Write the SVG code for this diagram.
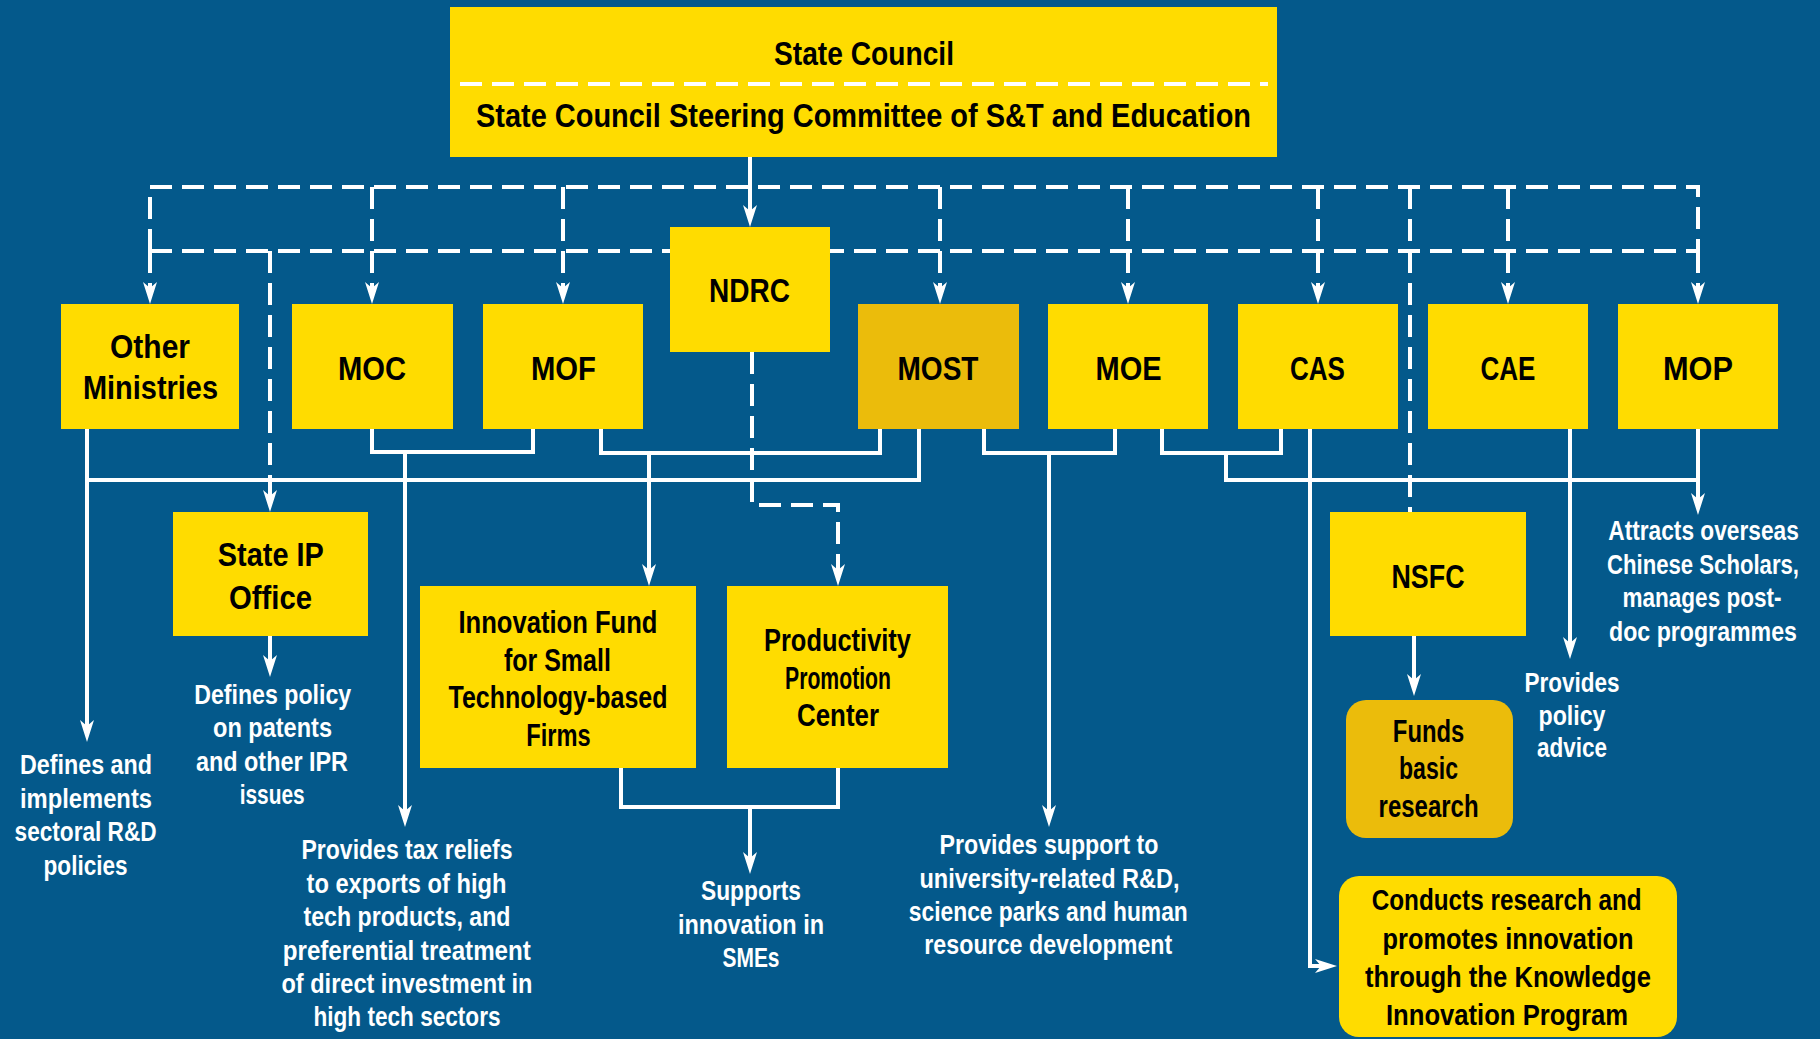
<svg xmlns="http://www.w3.org/2000/svg" width="1820" height="1039" viewBox="0 0 1820 1039">
  <defs>
    <style>
      .box { fill: #FFDC00; }
      .box-dark { fill: #EBBC0B; }
      .lbl { font-family: "Liberation Sans Narrow", "Liberation Sans", Arial, sans-serif; font-weight: bold; fill: #000; text-anchor: middle; }
      .big { font-size: 34px; }
      .mid { font-size: 31px; }
      .sm { font-size: 29px; }
      .desc { font-family: "Liberation Sans Narrow", "Liberation Sans", Arial, sans-serif; font-weight: bold; fill: #fff; text-anchor: middle; font-size: 27px; }
      .solid { fill: none; stroke: #fff; stroke-width: 4; }
      .dash { fill: none; stroke: #fff; stroke-width: 4; stroke-dasharray: 22 10; }
      .arrow { marker-end: url(#ah); }
    </style>
    <marker id="ah" viewBox="0 0 22 14" refX="14" refY="7" markerWidth="22" markerHeight="14" markerUnits="userSpaceOnUse" orient="auto">
      <path d="M0,0 L22,7 L0,14 L6,7 Z" fill="#fff"/>
    </marker>
  </defs>

  <!-- background -->
  <rect x="0" y="0" width="1820" height="1039" fill="#04598B"/>

  <!-- connectors -->
  <g id="connectors">
    <!-- dashed coordination bus below the State Council -->
    <path class="dash" d="M150,251 V187 H1698 V251"/>
    <path class="dash" d="M150,251 H1698"/>
    <!-- State Council to NDRC -->
    <path class="solid arrow" d="M750,157 V219"/>
    <!-- dashed drops to ministries -->
    <path class="dash arrow" d="M150,251 V296"/>
    <path class="dash arrow" d="M372,187 V296"/>
    <path class="dash arrow" d="M563,187 V296"/>
    <path class="dash arrow" d="M940,187 V296"/>
    <path class="dash arrow" d="M1128,187 V296"/>
    <path class="dash arrow" d="M1318,187 V296"/>
    <path class="dash arrow" d="M1508,187 V296"/>
    <path class="dash arrow" d="M1698,251 V296"/>
    <path class="dash arrow" d="M270,251 V504"/>
    <path class="dash" d="M1410,187 V512"/>
    <!-- NDRC to Productivity Promotion Center -->
    <path class="dash arrow" d="M752,352 V505 H838 V578"/>

    <!-- solid functional links -->
    <path class="solid arrow" d="M87,429 V734"/>
    <path class="solid" d="M919,429 V480 H87"/>
    <path class="solid" d="M372,429 V452 H533 V429"/>
    <path class="solid arrow" d="M405,452 V819"/>
    <path class="solid" d="M601,429 V453 H880 V429"/>
    <path class="solid arrow" d="M649,453 V578"/>
    <path class="solid" d="M621,768 V807 H838 V768"/>
    <path class="solid arrow" d="M750,807 V866"/>
    <path class="solid" d="M984,429 V453 H1115 V429"/>
    <path class="solid arrow" d="M1049,453 V819"/>
    <path class="solid" d="M1162,429 V453 H1281 V429"/>
    <path class="solid" d="M1226,453 V480 H1698"/>
    <path class="solid arrow" d="M1698,429 V507"/>
    <path class="solid arrow" d="M1310,429 V966 H1329"/>
    <path class="solid arrow" d="M1570,429 V651"/>
    <path class="solid arrow" d="M270,636 V669"/>
    <path class="solid arrow" d="M1414,636 V688"/>
  </g>

  <!-- State Council -->
  <g id="state-council">
    <rect class="box" x="450" y="7" width="827" height="150"/>
    <path d="M460,84 H1268" fill="none" stroke="#fff" stroke-width="4" stroke-dasharray="22 10"/>
    <text class="lbl big" x="864" y="64.5" textLength="180" lengthAdjust="spacingAndGlyphs">State Council</text>
    <text class="lbl big" x="863.5" y="127" textLength="775" lengthAdjust="spacingAndGlyphs">State Council Steering Committee of S&amp;T and Education</text>
  </g>

  <!-- ministries row -->
  <g id="other-ministries">
    <rect class="box" x="61" y="304" width="178" height="125"/>
    <text class="lbl big" x="150" y="358" textLength="80" lengthAdjust="spacingAndGlyphs">Other</text>
    <text class="lbl big" x="150.5" y="399" textLength="135" lengthAdjust="spacingAndGlyphs">Ministries</text>
  </g>
  <g id="moc">
    <rect class="box" x="292" y="304" width="161" height="125"/>
    <text class="lbl big" x="372" y="380" textLength="68" lengthAdjust="spacingAndGlyphs">MOC</text>
  </g>
  <g id="mof">
    <rect class="box" x="483" y="304" width="160" height="125"/>
    <text class="lbl big" x="563.5" y="380" textLength="65" lengthAdjust="spacingAndGlyphs">MOF</text>
  </g>
  <g id="ndrc">
    <rect class="box" x="670" y="227" width="160" height="125"/>
    <text class="lbl big" x="749.5" y="301.5" textLength="81" lengthAdjust="spacingAndGlyphs">NDRC</text>
  </g>
  <g id="most">
    <rect class="box-dark" x="858" y="304" width="161" height="125"/>
    <text class="lbl big" x="938" y="380" textLength="81" lengthAdjust="spacingAndGlyphs">MOST</text>
  </g>
  <g id="moe">
    <rect class="box" x="1048" y="304" width="160" height="125"/>
    <text class="lbl big" x="1128.5" y="380" textLength="66" lengthAdjust="spacingAndGlyphs">MOE</text>
  </g>
  <g id="cas">
    <rect class="box" x="1238" y="304" width="160" height="125"/>
    <text class="lbl big" x="1317.5" y="380" textLength="55" lengthAdjust="spacingAndGlyphs">CAS</text>
  </g>
  <g id="cae">
    <rect class="box" x="1428" y="304" width="160" height="125"/>
    <text class="lbl big" x="1508" y="380" textLength="55" lengthAdjust="spacingAndGlyphs">CAE</text>
  </g>
  <g id="mop">
    <rect class="box" x="1618" y="304" width="160" height="125"/>
    <text class="lbl big" x="1698" y="380" textLength="70" lengthAdjust="spacingAndGlyphs">MOP</text>
  </g>

  <!-- second tier -->
  <g id="state-ip-office">
    <rect class="box" x="173" y="512" width="195" height="124"/>
    <text class="lbl big" x="270.8" y="566" textLength="106" lengthAdjust="spacingAndGlyphs">State IP</text>
    <text class="lbl big" x="270.5" y="608.7" textLength="83" lengthAdjust="spacingAndGlyphs">Office</text>
  </g>
  <g id="innovation-fund">
    <rect class="box" x="420" y="586" width="276" height="182"/>
    <text class="lbl mid" x="558" y="633" textLength="199" lengthAdjust="spacingAndGlyphs">Innovation Fund</text>
    <text class="lbl mid" x="557.4" y="670.7" textLength="107" lengthAdjust="spacingAndGlyphs">for Small</text>
    <text class="lbl mid" x="558" y="708.2" textLength="219" lengthAdjust="spacingAndGlyphs">Technology-based</text>
    <text class="lbl mid" x="558.5" y="745.7" textLength="64.5" lengthAdjust="spacingAndGlyphs">Firms</text>
  </g>
  <g id="productivity-promotion-center">
    <rect class="box" x="727" y="586" width="221" height="182"/>
    <text class="lbl mid" x="837.5" y="651" textLength="147" lengthAdjust="spacingAndGlyphs">Productivity</text>
    <text class="lbl mid" x="838" y="688.8" textLength="106" lengthAdjust="spacingAndGlyphs">Promotion</text>
    <text class="lbl mid" x="838" y="726" textLength="82" lengthAdjust="spacingAndGlyphs">Center</text>
  </g>
  <g id="nsfc">
    <rect class="box" x="1330" y="512" width="196" height="124"/>
    <text class="lbl big" x="1428" y="588" textLength="73" lengthAdjust="spacingAndGlyphs">NSFC</text>
  </g>
  <g id="funds-basic-research">
    <rect class="box-dark" x="1346" y="700" width="167" height="138" rx="20" ry="20"/>
    <text class="lbl mid" x="1428.6" y="741.7" textLength="71.6" lengthAdjust="spacingAndGlyphs">Funds</text>
    <text class="lbl mid" x="1428.5" y="779.3" textLength="59" lengthAdjust="spacingAndGlyphs">basic</text>
    <text class="lbl mid" x="1428.6" y="816.8" textLength="100" lengthAdjust="spacingAndGlyphs">research</text>
  </g>
  <g id="knowledge-innovation">
    <rect class="box" x="1339" y="876" width="338" height="161" rx="20" ry="20"/>
    <text class="lbl sm" x="1506.7" y="910" textLength="270" lengthAdjust="spacingAndGlyphs">Conducts research and</text>
    <text class="lbl sm" x="1508" y="948.5" textLength="251" lengthAdjust="spacingAndGlyphs">promotes innovation</text>
    <text class="lbl sm" x="1508" y="986.7" textLength="286" lengthAdjust="spacingAndGlyphs">through the Knowledge</text>
    <text class="lbl sm" x="1507" y="1025" textLength="242" lengthAdjust="spacingAndGlyphs">Innovation Program</text>
  </g>

  <!-- role descriptions -->
  <g id="desc-other-ministries">
    <text class="desc" x="86" y="774" textLength="132" lengthAdjust="spacingAndGlyphs">Defines and</text>
    <text class="desc" x="86" y="807.5" textLength="132" lengthAdjust="spacingAndGlyphs">implements</text>
    <text class="desc" x="85.6" y="841" textLength="142" lengthAdjust="spacingAndGlyphs">sectoral R&amp;D</text>
    <text class="desc" x="85.6" y="874.5" textLength="84" lengthAdjust="spacingAndGlyphs">policies</text>
  </g>
  <g id="desc-state-ip">
    <text class="desc" x="272.7" y="704" textLength="157" lengthAdjust="spacingAndGlyphs">Defines policy</text>
    <text class="desc" x="272.5" y="737" textLength="119" lengthAdjust="spacingAndGlyphs">on patents</text>
    <text class="desc" x="272" y="770.5" textLength="152" lengthAdjust="spacingAndGlyphs">and other IPR</text>
    <text class="desc" x="272.2" y="803.5" textLength="65" lengthAdjust="spacingAndGlyphs">issues</text>
  </g>
  <g id="desc-moc-mof">
    <text class="desc" x="407" y="859" textLength="211" lengthAdjust="spacingAndGlyphs">Provides tax reliefs</text>
    <text class="desc" x="406.5" y="892.5" textLength="200" lengthAdjust="spacingAndGlyphs">to exports of high</text>
    <text class="desc" x="407" y="926" textLength="207" lengthAdjust="spacingAndGlyphs">tech products, and</text>
    <text class="desc" x="406.8" y="959.5" textLength="248" lengthAdjust="spacingAndGlyphs">preferential treatment</text>
    <text class="desc" x="407" y="993" textLength="251" lengthAdjust="spacingAndGlyphs">of direct investment in</text>
    <text class="desc" x="407" y="1026" textLength="187" lengthAdjust="spacingAndGlyphs">high tech sectors</text>
  </g>
  <g id="desc-smes">
    <text class="desc" x="751" y="900" textLength="100" lengthAdjust="spacingAndGlyphs">Supports</text>
    <text class="desc" x="751" y="933.5" textLength="146" lengthAdjust="spacingAndGlyphs">innovation in</text>
    <text class="desc" x="751" y="967" textLength="57" lengthAdjust="spacingAndGlyphs">SMEs</text>
  </g>
  <g id="desc-most-moe">
    <text class="desc" x="1049" y="854" textLength="219" lengthAdjust="spacingAndGlyphs">Provides support to</text>
    <text class="desc" x="1049.5" y="887.5" textLength="260" lengthAdjust="spacingAndGlyphs">university-related R&amp;D,</text>
    <text class="desc" x="1048.3" y="921" textLength="279" lengthAdjust="spacingAndGlyphs">science parks and human</text>
    <text class="desc" x="1048.3" y="954" textLength="248" lengthAdjust="spacingAndGlyphs">resource development</text>
  </g>
  <g id="desc-cae">
    <text class="desc" x="1572" y="691.5" textLength="95" lengthAdjust="spacingAndGlyphs">Provides</text>
    <text class="desc" x="1572" y="724.5" textLength="67" lengthAdjust="spacingAndGlyphs">policy</text>
    <text class="desc" x="1572" y="757" textLength="70" lengthAdjust="spacingAndGlyphs">advice</text>
  </g>
  <!-- narrowed horizontally so the block stays inside the right edge -->
  <g id="desc-mop" transform="translate(1703,0) scale(0.84,1)">
    <text class="desc" x="0.6" y="540.5" textLength="226.8" lengthAdjust="spacingAndGlyphs">Attracts overseas</text>
    <text class="desc" x="0" y="574" textLength="228.6" lengthAdjust="spacingAndGlyphs">Chinese Scholars,</text>
    <text class="desc" x="-1.2" y="607.5" textLength="189.3" lengthAdjust="spacingAndGlyphs">manages post-</text>
    <text class="desc" x="0" y="641" textLength="223.8" lengthAdjust="spacingAndGlyphs">doc programmes</text>
  </g>
</svg>
